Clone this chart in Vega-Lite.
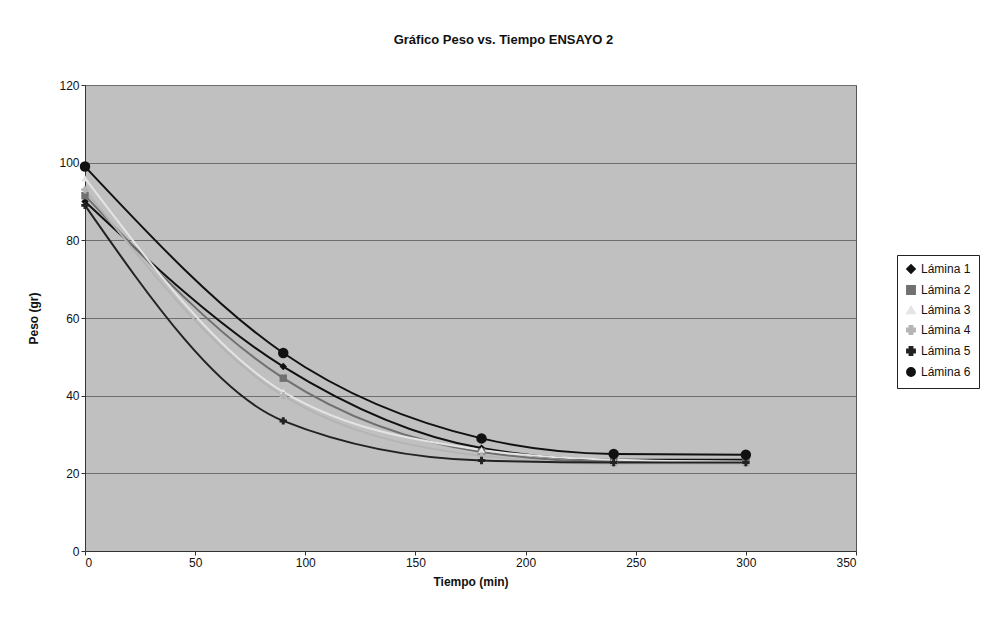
{
  "$schema": "https://vega.github.io/schema/vega-lite/v6.json",
  "width": 771,
  "height": 466,
  "autosize": {"type": "none"},
  "padding": {"left": 85, "top": 85, "right": 150, "bottom": 66},
  "background": "white",
  "title": {"text": "Gráfico Peso vs. Tiempo ENSAYO 2", "font": "Liberation Sans", "fontSize": 13, "fontWeight": "bold", "color": "#111", "anchor": "middle", "dx": 33, "offset": 32},
  "data": {"values": [
    {"t": 0, "peso": 90, "serie": "Lámina 1"},
    {"t": 90, "peso": 47.5, "serie": "Lámina 1"},
    {"t": 180, "peso": 26.5, "serie": "Lámina 1"},
    {"t": 240, "peso": 23.5, "serie": "Lámina 1"},
    {"t": 300, "peso": 23.5, "serie": "Lámina 1"},
    {"t": 0, "peso": 91.5, "serie": "Lámina 2"},
    {"t": 90, "peso": 44.5, "serie": "Lámina 2"},
    {"t": 180, "peso": 25.5, "serie": "Lámina 2"},
    {"t": 240, "peso": 23, "serie": "Lámina 2"},
    {"t": 300, "peso": 23, "serie": "Lámina 2"},
    {"t": 0, "peso": 96, "serie": "Lámina 3"},
    {"t": 90, "peso": 41, "serie": "Lámina 3"},
    {"t": 180, "peso": 26, "serie": "Lámina 3"},
    {"t": 240, "peso": 23.5, "serie": "Lámina 3"},
    {"t": 300, "peso": 23, "serie": "Lámina 3"},
    {"t": 0, "peso": 93, "serie": "Lámina 4"},
    {"t": 90, "peso": 40, "serie": "Lámina 4"},
    {"t": 180, "peso": 24.5, "serie": "Lámina 4"},
    {"t": 240, "peso": 22.5, "serie": "Lámina 4"},
    {"t": 300, "peso": 22.5, "serie": "Lámina 4"},
    {"t": 0, "peso": 89, "serie": "Lámina 5"},
    {"t": 90, "peso": 33.5, "serie": "Lámina 5"},
    {"t": 180, "peso": 23.3, "serie": "Lámina 5"},
    {"t": 240, "peso": 22.8, "serie": "Lámina 5"},
    {"t": 300, "peso": 22.8, "serie": "Lámina 5"},
    {"t": 0, "peso": 99, "serie": "Lámina 6"},
    {"t": 90, "peso": 51, "serie": "Lámina 6"},
    {"t": 180, "peso": 29, "serie": "Lámina 6"},
    {"t": 240, "peso": 25, "serie": "Lámina 6"},
    {"t": 300, "peso": 24.8, "serie": "Lámina 6"}
  ]},
  "encoding": {
    "x": {"field": "t", "type": "quantitative", "scale": {"domain": [0, 350], "nice": false},
      "axis": {"title": "Tiempo (min)", "values": [0, 50, 100, 150, 200, 250, 300, 350], "grid": false, "domainColor": "#333", "tickColor": "#333", "labelFont": "Liberation Sans", "labelFontSize": 12, "labelColor": "#111", "titleFont": "Liberation Sans", "titleFontSize": 12, "titleFontWeight": "bold", "titleColor": "#111", "titlePadding": 8, "tickSize": 4}},
    "y": {"field": "peso", "type": "quantitative", "scale": {"domain": [0, 120], "nice": false},
      "axis": {"title": "Peso (gr)", "values": [0, 20, 40, 60, 80, 100, 120], "grid": true, "gridColor": "#6e6e6e", "gridWidth": 1, "domainColor": "#333", "tickColor": "#333", "labelFont": "Liberation Sans", "labelFontSize": 12, "labelColor": "#111", "titleFont": "Liberation Sans", "titleFontSize": 12, "titleFontWeight": "bold", "titleColor": "#111", "titlePadding": 18, "tickSize": 4}},
    "color": {"field": "serie", "type": "nominal",
      "scale": {"domain": ["Lámina 1", "Lámina 2", "Lámina 3", "Lámina 4", "Lámina 5", "Lámina 6"], "range": ["#111111", "#707070", "#e4e4e4", "#b4b4b4", "#222222", "#111111"]},
      "legend": {"title": null, "orient": "none", "legendX": 812, "legendY": 170, "fillColor": "white", "strokeColor": "#222", "padding": 8, "labelFont": "Liberation Sans", "labelFontSize": 12, "labelColor": "#111", "rowPadding": 5, "symbolSize": 70, "labelLimit": 200}},
    "shape": {"field": "serie", "type": "nominal",
      "scale": {"domain": ["Lámina 1", "Lámina 2", "Lámina 3", "Lámina 4", "Lámina 5", "Lámina 6"], "range": ["diamond", "square", "triangle-up", "cross", "cross", "circle"]},
      "legend": {"title": null, "orient": "none", "legendX": 812, "legendY": 170, "fillColor": "white", "strokeColor": "#222", "padding": 8, "labelFont": "Liberation Sans", "labelFontSize": 12, "labelColor": "#111", "rowPadding": 5, "symbolSize": 70, "labelLimit": 200}}
  },
  "layer": [
    {"mark": {"type": "line", "interpolate": "monotone", "strokeWidth": 2}, "encoding": {"shape": null}},
    {"mark": {"type": "point", "filled": true, "size": 55, "opacity": 1}},
    {"transform": [{"filter": "datum.serie === 'Lámina 6'"}], "mark": {"type": "point", "filled": true, "size": 110, "opacity": 1, "shape": "circle"}, "encoding": {"shape": null}}
  ],
  "config": {"view": {"fill": "#c0c0c0", "stroke": "#555"}}
}
